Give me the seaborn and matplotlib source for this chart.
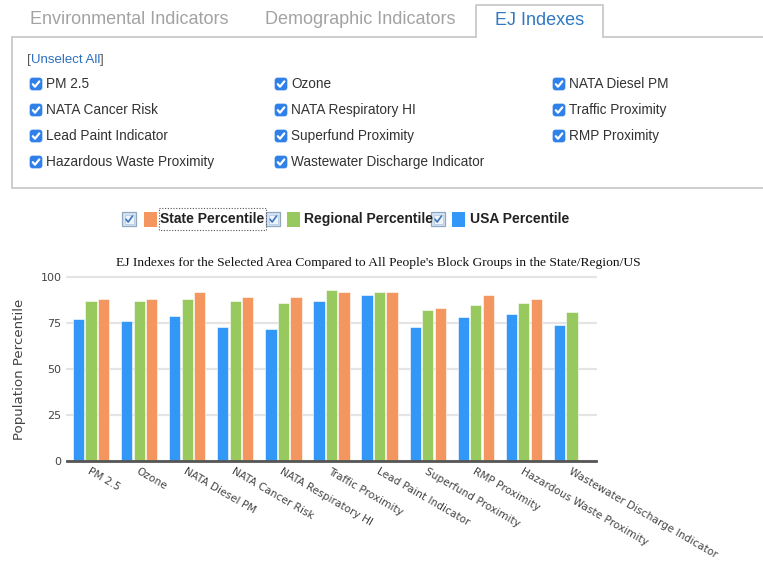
import matplotlib.pyplot as plt
import matplotlib.patches as mpatches
import pandas as pd
import seaborn as sns

# chart data
categories = ["PM 2.5", "Ozone", "NATA Diesel PM", "NATA Cancer Risk", "NATA Respiratory HI",
              "Traffic Proximity", "Lead Paint Indicator", "Superfund Proximity", "RMP Proximity",
              "Hazardous Waste Proximity", "Wastewater Discharge Indicator"]
usa_pct = [77, 76, 79, 73, 72, 87, 90, 73, 78, 80, 74]
regional_pct = [87, 87, 88, 87, 86, 93, 92, 82, 85, 86, 81]
state_pct = [88, 88, 92, 89, 89, 92, 92, 83, 90, 88, float("nan")]
series_names = ["USA Percentile", "Regional Percentile", "State Percentile"]
series_colors = ["#3397f7", "#97c95f", "#f4965f"]
y_ticks = [0, 25, 50, 75, 100]

# page widgets around the chart
tab_labels = ["Environmental Indicators", "Demographic Indicators", "EJ Indexes"]
checkbox_columns = [
    ["PM 2.5", "NATA Cancer Risk", "Lead Paint Indicator", "Hazardous Waste Proximity"],
    ["Ozone", "NATA Respiratory HI", "Superfund Proximity", "Wastewater Discharge Indicator"],
    ["NATA Diesel PM", "Traffic Proximity", "RMP Proximity"],
]
legend_order = ["State Percentile", "Regional Percentile", "USA Percentile"]
title = "EJ Indexes for the Selected Area Compared to All People's Block Groups in the State/Region/US"

df = pd.DataFrame({
    "Indicator": categories * 3,
    "Percentile": usa_pct + regional_pct + state_pct,
    "Series": [s for s in series_names for _ in categories],
})

sns.set_style("white")
W, H = 763, 561
fig = plt.figure(figsize=(W / 100, H / 100), dpi=100)

# overlay axes in pixel units for the web-page parts
ui = fig.add_axes([0, 0, 1, 1])
ui.set_xlim(0, W)
ui.set_ylim(H, 0)
ui.axis("off")

border = "#c9c9c9"
# tabs
ui.text(30, 19, tab_labels[0], fontsize=13, color="#a3a3a3", va="center", family="Liberation Sans")
ui.text(265, 19, tab_labels[1], fontsize=13, color="#a3a3a3", va="center", family="Liberation Sans")
ui.text(540, 20, tab_labels[2], fontsize=13, color="#2f78c4", va="center", ha="center", family="Liberation Sans")
ui.plot([476, 476, 603, 603], [37, 5, 5, 37], color=border, lw=1.3)
# panel
ui.plot([12, 476], [37, 37], color=border, lw=1.3)
ui.plot([603, W], [37, 37], color=border, lw=1.3)
ui.plot([12, 12, W], [37, 188, 188], color=border, lw=1.3)

t1 = ui.text(27, 60, "[", fontsize=9.5, color="#555555", va="center", family="Liberation Sans")
t2 = ui.annotate("Unselect All", xy=(1, 0), xycoords=t1, va="bottom", fontsize=9.5,
                 color="#2a6fc0", family="Liberation Sans")
ui.annotate("]", xy=(1, 0), xycoords=t2, va="bottom", fontsize=9.5, color="#555555", family="Liberation Sans")


def blue_checkbox(x, yc, s=12):
    ui.add_patch(mpatches.FancyBboxPatch((x, yc - s / 2), s, s,
                                         boxstyle="round,pad=0,rounding_size=2.5",
                                         fc="#2f80e8", ec="#2f80e8", lw=0.5))
    ui.plot([x + 2.8, x + 5.0, x + 9.3], [yc + 0.2, yc + 2.7, yc - 2.6],
            color="white", lw=1.6, solid_capstyle="round", solid_joinstyle="round")


col_x = [30, 275, 553]
row_y = [84, 110, 136, 162]
for cx, items in zip(col_x, checkbox_columns):
    for ry, label in zip(row_y, items):
        blue_checkbox(cx, ry)
        ui.text(cx + 16, ry, label, fontsize=9.8, color="#333333", va="center", family="Liberation Sans")


def old_checkbox(x, yc, s=14):
    ui.add_patch(mpatches.Rectangle((x, yc - s / 2), s, s, fc="#d6e4f3", ec="#8ea7c4", lw=0.9))
    ui.add_patch(mpatches.Rectangle((x + 2.5, yc - s / 2 + 2.5), s - 5, s - 5, fc="#eef4fb", ec="#b9cbe0", lw=0.6))
    ui.plot([x + 4, x + 6.2, x + 10.5], [yc + 0.3, yc + 3, yc - 3],
            color="#3f73b8", lw=1.2)


# custom legend row
legend_colors = dict(zip(series_names, series_colors))
leg_cb_x = [122, 266, 431]
leg_sq_x = [144, 287, 452]
leg_txt_x = [160, 304, 470]
for name, cbx, sqx, tx in zip(legend_order, leg_cb_x, leg_sq_x, leg_txt_x):
    old_checkbox(cbx, 219)
    ui.add_patch(mpatches.Rectangle((sqx, 211.5), 13, 15, fc=legend_colors[name], ec="none"))
    ui.text(tx, 219, name, fontsize=10, fontweight="bold", color="#222222", va="center",
            family="Liberation Sans")
ui.add_patch(mpatches.Rectangle((158.5, 208), 107, 22, fill=False, ec="#555555", lw=0.8, ls=(0, (1, 1.5))))

# chart title
ui.text(378, 263, title, fontsize=9.7, ha="center", va="center", color="#111111", family="Liberation Serif")

# bar chart
ax = fig.add_axes([67 / W, 1 - 461 / H, (596 - 67) / W, (461 - 277) / H])
sns.barplot(data=df, x="Indicator", y="Percentile", hue="Series", hue_order=series_names,
            palette=series_colors, width=0.78, gap=0.1, saturation=1, legend=False,
            edgecolor="white", linewidth=0.4, ax=ax)
ax.set_ylim(0, 100)
ax.set_xlim(-0.5, len(categories) - 0.5)
ax.set_yticks(y_ticks)
ax.set_yticklabels([str(v) for v in y_ticks], fontsize=8, color="#444444")
ax.yaxis.grid(True, color="#e4e4e4", lw=1.6)
for gl in ax.get_ygridlines():
    gl.set_clip_on(False)
ax.set_axisbelow(True)
ax.tick_params(axis="both", length=0)
ax.tick_params(axis="y", pad=4)
ax.tick_params(axis="x", pad=4)
for side in ["top", "right", "left"]:
    ax.spines[side].set_visible(False)
ax.spines["bottom"].set_color("#555555")
ax.spines["bottom"].set_linewidth(2)
ax.set_xlabel("")
ax.set_ylabel("Population Percentile", fontsize=9.6, color="#444444")
ax.yaxis.set_label_coords(-0.078, 0.5)
for lab in ax.get_xticklabels():
    lab.set_rotation(-30)
    lab.set_ha("left")
    lab.set_va("top")
    lab.set_rotation_mode("anchor")
    lab.set_fontsize(7.6)
    lab.set_color("#444444")

fig.savefig("out.png", dpi=100)
